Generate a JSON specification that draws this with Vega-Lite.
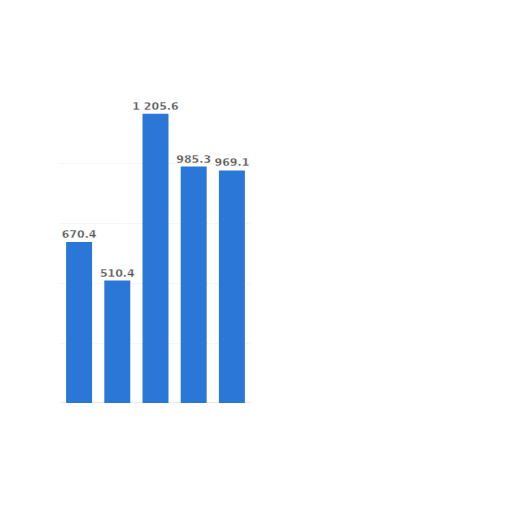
{
  "$schema": "https://vega.github.io/schema/vega-lite/v6.json",
  "autosize": {"type": "none"},
  "padding": {"left": 60, "top": 103, "right": 0, "bottom": 0},
  "width": 191,
  "height": 300,
  "background": "white",
  "config": {
    "view": {"stroke": null},
    "locale": {"number": {"decimal": ".", "thousands": " ", "grouping": [3], "currency": ["", ""]}}
  },
  "data": {
    "values": [
      {"category": "A", "value": 670.4},
      {"category": "B", "value": 510.4},
      {"category": "C", "value": 1205.6},
      {"category": "D", "value": 985.3},
      {"category": "E", "value": 969.1}
    ]
  },
  "encoding": {
    "x": {
      "field": "category",
      "type": "nominal",
      "sort": null,
      "scale": {"paddingInner": 0.32, "paddingOuter": 0.16},
      "axis": {"title": null, "labels": false, "ticks": false, "domainColor": "#d8d8d8", "domainWidth": 2}
    },
    "y": {
      "field": "value",
      "type": "quantitative",
      "scale": {"domain": [0, 1250], "nice": false},
      "axis": {"title": null, "labels": false, "ticks": false, "domain": false, "values": [250, 500, 750, 1000], "gridColor": "#e4e4e4", "gridDash": [1, 2]}
    }
  },
  "layer": [
    {"mark": {"type": "bar", "color": "#2b77d8"}},
    {
      "mark": {"type": "text", "baseline": "bottom", "dy": -2, "fontSize": 11, "fontWeight": "bold", "font": "DejaVu Sans", "color": "#555555", "stroke": "white", "strokeWidth": 0.3},
      "encoding": {"text": {"field": "value", "type": "quantitative", "format": ",.1f"}}
    }
  ]
}
